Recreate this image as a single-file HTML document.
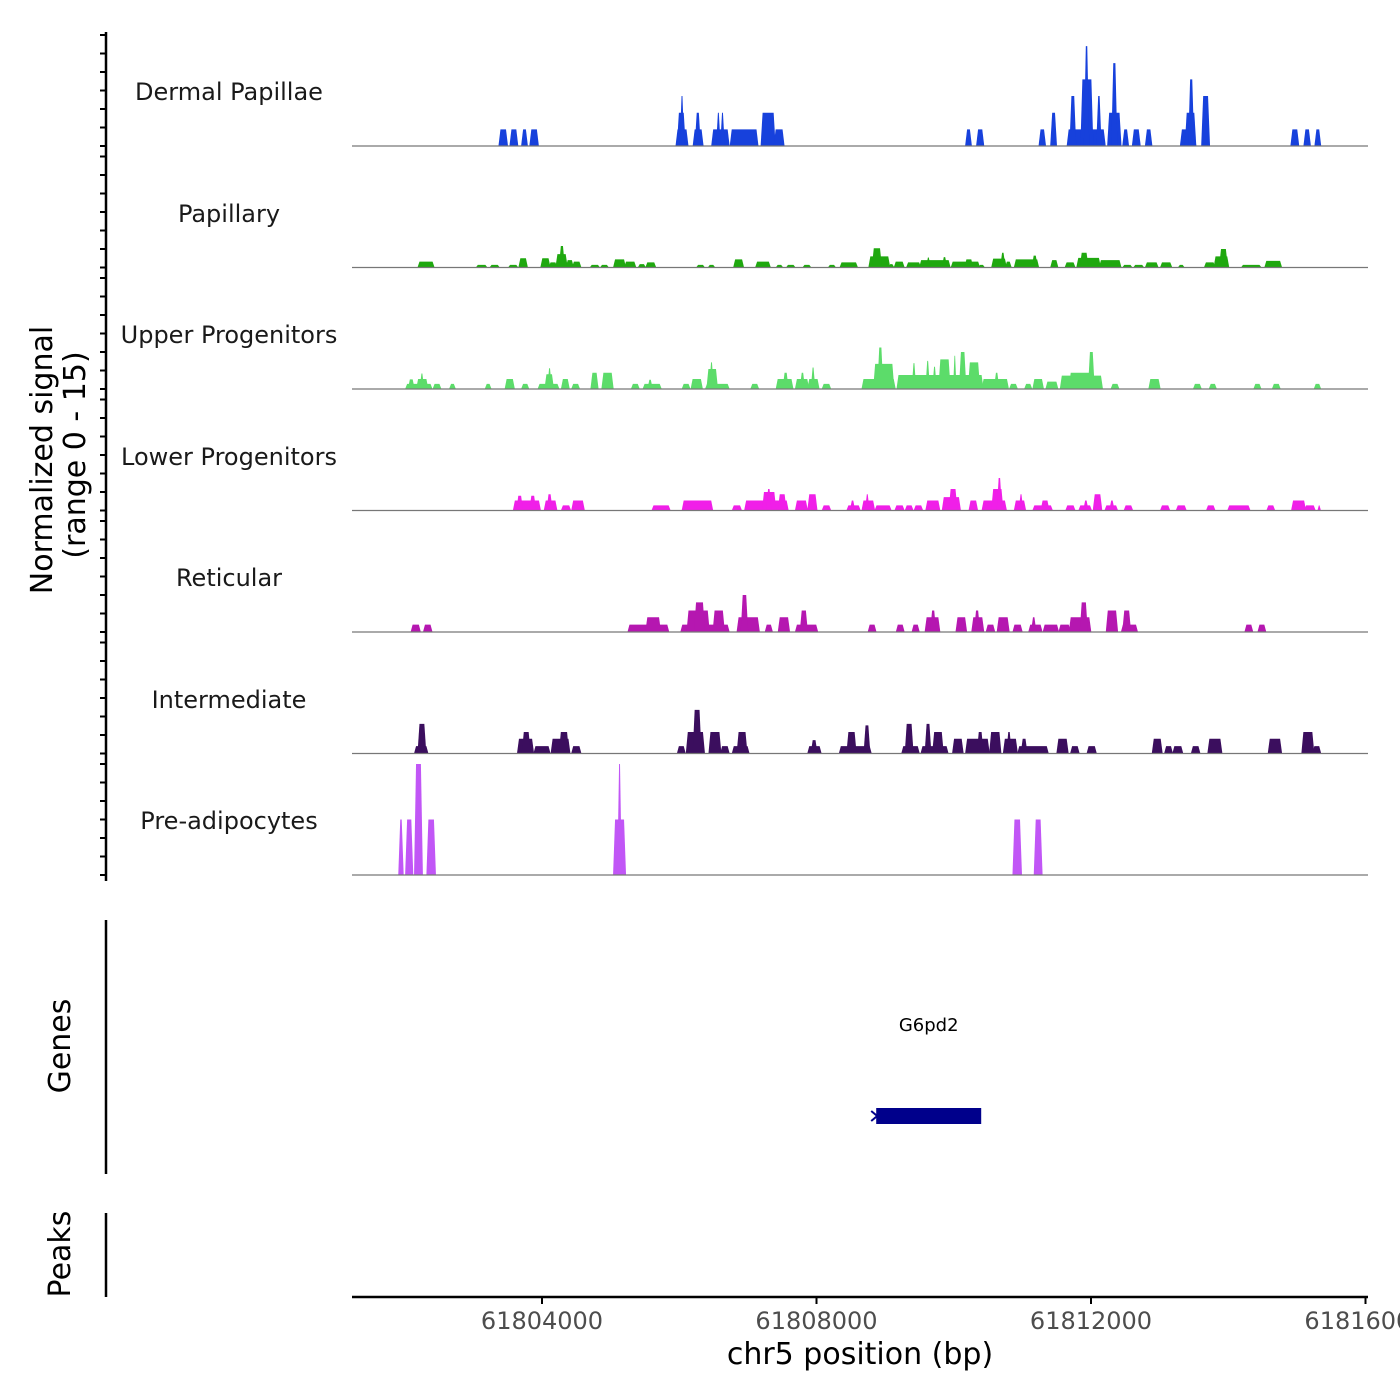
<!DOCTYPE html>
<html><head><meta charset="utf-8"><style>
html,body{margin:0;padding:0;background:#fff;}
svg{display:block;font-family:"DejaVu Sans","Liberation Sans",sans-serif;}
</style></head><body>
<svg id="chart" width="1400" height="1400" viewBox="0 0 1400 1400" xmlns="http://www.w3.org/2000/svg">
<rect x="0" y="0" width="1400" height="1400" fill="#fff"/>
<g id="tracks"></g>
<g id="yticks"></g>
<line x1="106" y1="32" x2="106" y2="881" stroke="#000" stroke-width="2.5"/>
<line x1="106" y1="920" x2="106" y2="1174" stroke="#000" stroke-width="2.5"/>
<line x1="106" y1="1213" x2="106" y2="1297" stroke="#000" stroke-width="2.5"/>
<g font-size="24" fill="#1a1a1a" text-anchor="middle">
<text x="229" y="100">Dermal Papillae</text>
<text x="229" y="222">Papillary</text>
<text x="229" y="343">Upper Progenitors</text>
<text x="229" y="465">Lower Progenitors</text>
<text x="229" y="586">Reticular</text>
<text x="229" y="708">Intermediate</text>
<text x="229" y="829">Pre-adipocytes</text>
</g>
<g font-size="30" fill="#000" text-anchor="middle">
<text transform="translate(52,460) rotate(-90)">Normalized signal</text>
<text transform="translate(85,455) rotate(-90)">(range 0 - 15)</text>
<text transform="translate(70,1046) rotate(-90)">Genes</text>
<text transform="translate(70,1254) rotate(-90)">Peaks</text>
</g>
<g id="gene"></g>
<line x1="352" y1="1297" x2="1368" y2="1297" stroke="#000" stroke-width="2.5"/>
<g id="xticks"></g>
<text x="860" y="1364" font-size="30" text-anchor="middle" fill="#000">chr5 position (bp)</text>
</svg>
<script>
const xTickValues=[61804000,61808000,61812000,61816000];
const xTickLabels=["61804000","61808000","61812000","61816000"];
const trackNames=["Dermal Papillae","Papillary","Upper Progenitors","Lower Progenitors","Reticular","Intermediate","Pre-adipocytes"];
const yTickValues=[0,2.5,5,7.5,10,12.5,15];
const dermalPapillae=[[61803380,61803490,2.25],[61803540,61803640,2.25],[61803710,61803780,2.25],[61803830,61803940,2.25],[61805960,61806120,2.25],[61805980,61806080,4.5],[61806020,61806060,6.75],[61806210,61806340,2.25],[61806240,61806300,4.5],[61806480,61806720,2.25],[61806550,61806590,4.5],[61806610,61806650,4.5],[61806750,61807140,2.25],[61807200,61807390,4.5],[61807390,61807520,2.25],[61810180,61810250,2.25],[61810340,61810430,2.25],[61811250,61811330,2.25],[61811420,61811490,4.5],[61811660,61812200,2.25],[61811700,61811770,6.75],[61811860,61812020,9],[61811910,61811960,13.5],[61812090,61812140,6.75],[61812250,61812430,4.5],[61812310,61812370,11.2],[61812470,61812540,2.25],[61812610,61812710,2.25],[61812800,61812880,2.25],[61813310,61813520,2.25],[61813380,61813520,4.5],[61813430,61813490,9],[61813620,61813720,6.75],[61814920,61815020,2.25],[61815110,61815190,2.25],[61815270,61815340,2.25]];
const papillary=[[61802200,61802420,0.8],[61803050,61803190,0.35],[61803250,61803370,0.35],[61803520,61803640,0.35],[61803670,61803780,1.25],[61803990,61804110,1.25],[61804110,61804210,0.7],[61804210,61804360,1.8],[61804260,61804320,2.9],[61804360,61804450,1.0],[61804450,61804560,0.8],[61804710,61804830,0.35],[61804860,61804960,0.35],[61805050,61805210,1.1],[61805210,61805360,0.8],[61805410,61805500,0.45],[61805520,61805650,0.7],[61806260,61806360,0.35],[61806430,61806510,0.35],[61806800,61806930,1.1],[61807120,61807320,0.8],[61807420,61807500,0.35],[61807570,61807680,0.35],[61807810,61807910,0.35],[61808180,61808270,0.35],[61808350,61808590,0.7],[61808770,61809060,1.5],[61808820,61808940,2.6],[61809060,61809120,0.45],[61809140,61809270,0.8],[61809320,61809510,0.7],[61809510,61809940,1.0],[61809610,61809650,1.35],[61809840,61809890,1.4],[61809970,61810370,0.8],[61810170,61810270,1.1],[61810370,61810440,0.35],[61810560,61810760,1.2],[61810690,61810740,2.0],[61810760,61810830,0.8],[61810890,61811230,1.1],[61811150,61811210,1.6],[61811420,61811510,1.0],[61811630,61811760,0.7],[61811800,61812130,1.3],[61811850,61811950,2.0],[61812130,61812430,1.0],[61812470,61812590,0.35],[61812630,61812760,0.35],[61812800,61812970,0.7],[61813020,61813170,0.7],[61813280,61813350,0.35],[61813660,61813800,0.7],[61813800,61814000,1.5],[61813880,61813980,2.5],[61814200,61814470,0.35],[61814540,61814770,0.9]];
const upperProgenitors=[[61802020,61802390,0.7],[61802060,61802130,1.3],[61802180,61802330,1.35],[61802230,61802270,2.1],[61802420,61802520,0.7],[61802660,61802730,0.7],[61803180,61803250,0.7],[61803470,61803590,1.35],[61803710,61803800,0.7],[61803950,61804240,0.7],[61804050,61804160,2.0],[61804090,61804130,2.8],[61804290,61804390,1.35],[61804440,61804540,0.7],[61804720,61804810,2.2],[61804880,61805030,2.2],[61805310,61805410,0.7],[61805480,61805730,0.7],[61805550,61805600,1.25],[61806050,61806150,0.7],[61806180,61806330,1.35],[61806390,61806720,0.7],[61806410,61806550,2.7],[61806450,61806490,3.6],[61807050,61807150,0.7],[61807420,61807650,1.35],[61807520,61807580,2.2],[61807700,61807880,1.35],[61807770,61807820,2.2],[61807880,61808030,1.35],[61807930,61807970,2.9],[61808090,61808200,0.7],[61808670,61809140,1.35],[61808840,61809120,3.4],[61808900,61808960,5.6],[61809180,61810420,1.9],[61809400,61809440,3.5],[61809600,61809640,3.8],[61809700,61809740,3.0],[61809790,61809940,4.0],[61810000,61810030,4.5],[61810090,61810170,5.0],[61810220,61810370,3.6],[61810420,61810790,1.35],[61810600,61810650,2.2],[61810820,61810920,0.7],[61811040,61811130,0.7],[61811160,61811300,1.35],[61811350,61811510,1.0],[61811560,61812160,1.8],[61811690,61812040,2.2],[61811970,61812040,5.0],[61812300,61812400,0.7],[61812850,61813000,1.35],[61813500,61813600,0.7],[61813730,61813820,0.7],[61814380,61814470,0.7],[61814650,61814750,0.7],[61815260,61815340,0.7]];
const lowerProgenitors=[[61803590,61803970,1.35],[61803640,61803710,2.0],[61803830,61803900,2.0],[61804040,61804210,1.35],[61804080,61804140,2.2],[61804290,61804410,0.7],[61804440,61804610,1.35],[61805610,61805860,0.7],[61806050,61806480,1.35],[61806780,61806900,0.7],[61806960,61807580,1.35],[61807220,61807400,2.5],[61807280,61807330,2.9],[61807450,61807550,2.2],[61807700,61807860,1.35],[61807880,61808000,2.2],[61808090,61808200,0.7],[61808450,61808630,0.7],[61808500,61808550,1.35],[61808670,61808840,1.35],[61808720,61808760,2.2],[61808860,61809080,0.7],[61809150,61809270,0.7],[61809300,61809400,0.7],[61809430,61809540,0.7],[61809600,61809790,1.35],[61809840,61810090,1.8],[61809940,61810040,2.9],[61810230,61810340,1.35],[61810420,61810760,1.35],[61810560,61810710,2.9],[61810640,61810690,4.4],[61810890,61811040,1.35],[61810960,61811000,2.2],[61811160,61811430,0.7],[61811280,61811380,1.35],[61811640,61811760,0.7],[61811830,61812000,0.7],[61811900,61811950,1.35],[61812040,61812150,2.2],[61812210,61812380,0.7],[61812280,61812330,1.35],[61812490,61812600,0.7],[61813020,61813140,0.7],[61813250,61813380,0.7],[61813690,61813800,0.7],[61814000,61814310,0.7],[61814570,61814670,0.7],[61814930,61815120,1.35],[61815120,61815260,0.7],[61815310,61815340,0.7]];
const reticular=[[61802100,61802220,1.0],[61802280,61802390,1.0],[61805260,61805840,1.0],[61805520,61805720,2.0],[61806030,61806720,1.0],[61806120,61806430,2.9],[61806230,61806360,4.0],[61806500,61806650,2.9],[61806850,61807160,2.0],[61806910,61806990,5.0],[61807260,61807350,1.0],[61807450,61807600,2.0],[61807700,61808010,1.0],[61807770,61807860,2.9],[61808760,61808860,1.0],[61809170,61809270,1.0],[61809400,61809490,1.0],[61809590,61809790,2.0],[61809670,61809730,2.9],[61810040,61810180,2.0],[61810270,61810430,2.0],[61810310,61810370,2.9],[61810480,61810590,1.0],[61810640,61810800,2.0],[61810870,61810990,1.0],[61811100,61811280,1.0],[61811140,61811190,2.0],[61811310,61811520,1.0],[61811540,61811690,1.0],[61811690,61811990,2.0],[61811850,61811940,4.0],[61812230,61812380,2.9],[61812450,61812670,1.0],[61812470,61812570,2.9],[61814250,61814350,1.0],[61814440,61814540,1.0]];
const intermediate=[[61802150,61802330,1.0],[61802200,61802300,4.0],[61803650,61803870,2.0],[61803720,61803820,2.9],[61803890,61804110,1.0],[61804140,61804400,2.0],[61804260,61804380,2.9],[61804440,61804560,1.0],[61805980,61806080,1.0],[61806110,61806360,2.9],[61806210,61806310,5.9],[61806440,61806600,2.9],[61806610,61806720,1.0],[61806780,61807010,1.0],[61806850,61806980,2.9],[61807880,61808060,1.0],[61807930,61808000,1.8],[61808340,61808790,1.0],[61808450,61808570,2.9],[61808700,61808770,3.8],[61809250,61809490,1.0],[61809300,61809400,4.0],[61809530,61809910,1.0],[61809590,61809660,4.0],[61809700,61809840,2.9],[61809990,61810130,2.0],[61810180,61810510,2.0],[61810350,61810420,2.9],[61810530,61810680,2.9],[61810730,61810920,2.0],[61810780,61810830,2.9],[61810940,61811370,1.0],[61810990,61811060,2.0],[61811510,61811660,2.0],[61811710,61811820,1.0],[61811950,61812070,1.0],[61812900,61813030,2.0],[61813080,61813180,1.0],[61813200,61813330,1.0],[61813470,61813580,1.0],[61813710,61813900,2.0],[61814590,61814770,2.0],[61815080,61815240,2.9],[61815240,61815340,1.0]];
const preAdipocytes=[[61801920,61801970,7.5],[61802020,61802110,7.5],[61802150,61802250,15],[61802330,61802440,7.5],[61805050,61805210,7.5],[61805110,61805150,15],[61810870,61810980,7.5],[61811180,61811280,7.5]];
const geneStart=61808870, geneEnd=61810400;
const geneName="G6pd2";

const trackSeries=[dermalPapillae,papillary,upperProgenitors,lowerProgenitors,reticular,intermediate,preAdipocytes];
const trackColors=["#1741dc","#1fa80f","#5cdc6a","#f01fe8","#b517b0","#3b0e5e","#c156f6"];
const NS="http://www.w3.org/2000/svg";
function xs(bp){return 542+(bp-61804000)*274.5/4000;}
function baseline(i){return 146+i*121.5;}
function ys(v,i){return baseline(i)-Math.min(v,15)*7.4;}
function mk(tag,attrs,parent){const e=document.createElementNS(NS,tag);for(const k in attrs)e.setAttribute(k,attrs[k]);parent.appendChild(e);return e;}
const tracks=document.getElementById('tracks');
trackSeries.forEach((series,i)=>{
  const g=mk('g',{},tracks);
  
  
  const b=baseline(i);
  series.forEach(d=>{
    const x0=xs(d[0]),x1=xs(d[1]),t=ys(d[2],i);
    const r=Math.min(1,(x1-x0)/3);
    const p=mk('polygon',{points:`${x0-r},${b} ${x0+r},${t} ${x1-r},${t} ${x1+r},${b}`,fill:trackColors[i]},g);
    
    
  });
  const bl=mk('line',{x1:352,x2:1368,y1:b,y2:b,stroke:'#777','stroke-width':1.2},g);
  
  
});
const yt=document.getElementById('yticks');
for(let i=0;i<7;i++){yTickValues.forEach(v=>{const y=ys(v,i);
  const l=mk('line',{x1:100,x2:106,y1:y,y2:y,stroke:'#000','stroke-width':2},yt);
  
  });}
const xt=document.getElementById('xticks');
xTickValues.forEach((v,k)=>{const x=xs(v);
  const l=mk('line',{x1:x,x2:x,y1:1297,y2:1304,stroke:'#000','stroke-width':2},xt);
  
  
  const t=mk('text',{x:x,y:1329,'font-size':24,'text-anchor':'middle',fill:'#4d4d4d'},xt);
  t.textContent=xTickLabels[k];
  
  });
const gg=document.getElementById('gene');
const gx0=xs(geneStart),gx1=xs(geneEnd);
const gr=mk('rect',{x:gx0,y:1108,width:gx1-gx0,height:16,fill:'#00008b'},gg);


const ga=mk('path',{d:`M${gx0-5},1111 L${gx0+1},1116 L${gx0-5},1121`,stroke:'#00008b','stroke-width':2,fill:'none'},gg);


const gl=mk('text',{x:(gx0+gx1)/2,y:1031,'font-size':18,'text-anchor':'middle',fill:'#000'},gg);
gl.textContent=geneName;


</script>
</body></html>
